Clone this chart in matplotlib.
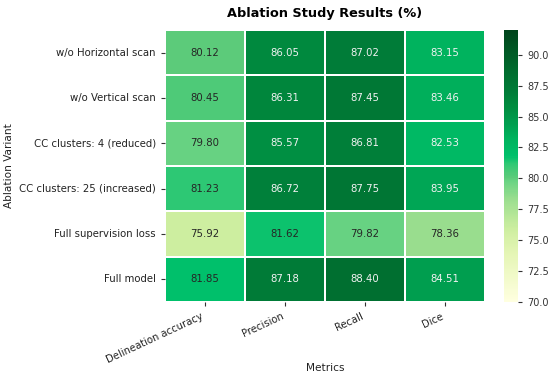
import numpy as np
import pandas as pd
import matplotlib
matplotlib.use("Agg")
import matplotlib.pyplot as plt
import seaborn as sns
from matplotlib.colors import LinearSegmentedColormap

variants = ["w/o Horizontal scan", "w/o Vertical scan", "CC clusters: 4 (reduced)",
            "CC clusters: 25 (increased)", "Full supervision loss", "Full model"]
metrics = ["Delineation accuracy", "Precision", "Recall", "Dice"]
delineation = [80.12, 80.45, 79.80, 81.23, 75.92, 81.85]
precision = [86.05, 86.31, 85.57, 86.72, 81.62, 87.18]
recall = [87.02, 87.45, 86.81, 87.75, 79.82, 88.40]
dice = [83.15, 83.46, 82.53, 83.95, 78.36, 84.51]

df = pd.DataFrame({"Delineation accuracy": delineation, "Precision": precision,
                   "Recall": recall, "Dice": dice}, index=variants)

vmin, vmax = 70, 92
anchors = [(70, "#ffffe0"), (74, "#e4f5b4"), (75.9, "#cdeea0"), (78.4, "#98dd8e"),
           (79.8, "#68d383"), (80.1, "#5ccb7a"), (81.2, "#2ec874"), (81.8, "#00c06b"),
           (83.2, "#00b35e"), (84.5, "#009e4f"), (86.0, "#008a3e"), (87.0, "#007d38"),
           (88.4, "#007030"), (92, "#00441b")]
cmap = LinearSegmentedColormap.from_list(
    "custom", [((v - vmin) / (vmax - vmin), c) for v, c in anchors])

fig = plt.figure(figsize=(5.5, 3.78), dpi=100)
ax = fig.add_axes([165/550, 1-302/378, (485-165)/550, (302-30)/378])
cax = fig.add_axes([504/550, 1-302/378, 14/550, (302-30)/378])

sns.heatmap(df, ax=ax, cbar_ax=cax, cmap=cmap, vmin=vmin, vmax=vmax, annot=True, fmt=".2f",
            annot_kws={"fontsize": 7.3}, linewidths=1.2, linecolor="white")
for t in ax.texts:
    v = float(t.get_text())
    t.set_color("#f2f2f2" if v > 82.5 else "#262626")

cax.set_yticks([70, 72.5, 75, 77.5, 80, 82.5, 85, 87.5, 90])
cax.set_yticklabels(["70.0", "72.5", "75.0", "77.5", "80.0", "82.5", "85.0", "87.5", "90.0"])
cax.tick_params(labelsize=7, length=3, colors="#333333")
for s in cax.spines.values():
    s.set_visible(False)

ax.set_xticklabels(metrics, rotation=25, ha="right", fontsize=7.2)
ax.set_yticklabels(variants, rotation=0, fontsize=7.3)
ax.tick_params(axis="both", length=3, colors="#333333", labelcolor="#222222")
ax.set_xlabel("Metrics", fontsize=7.6, color="#222222", va="center")
ax.xaxis.set_label_coords(0.5, (302 - 368) / 272)
ax.set_ylabel("Ablation Variant", fontsize=7.6, color="#222222")
ax.set_title("Ablation Study Results (%)", fontsize=9.3, fontweight="bold", pad=9)

fig.savefig("out.png", dpi=100)
